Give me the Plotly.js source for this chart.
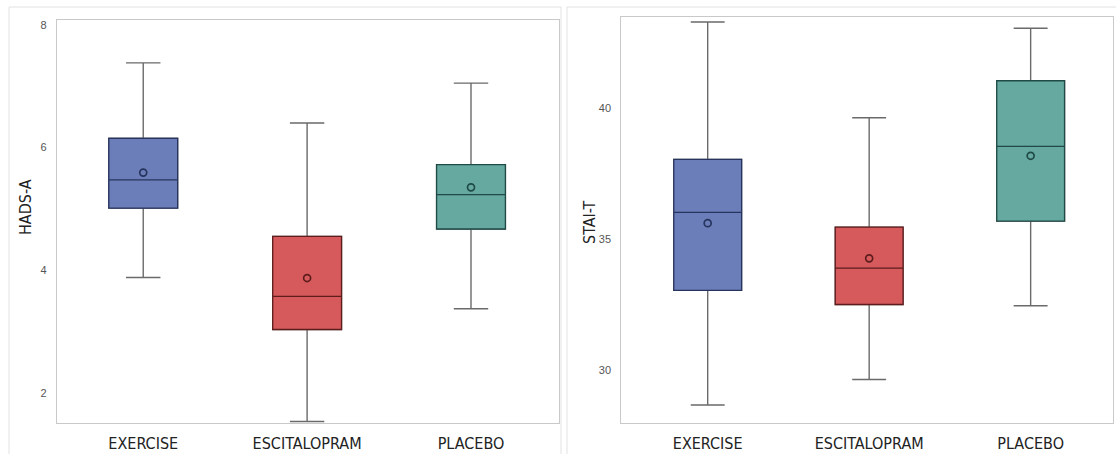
<!DOCTYPE html>
<html>
<head>
<meta charset="utf-8">
<script src="https://cdn.plot.ly/plotly-3.0.1.min.js"></script>
<style>html,body{margin:0;padding:0;background:#fff;}#chart{width:1116px;height:454px;}</style>
</head>
<body>
<div id="chart"></div>
<script>
// Groups
const groups = ['EXERCISE', 'ESCITALOPRAM', 'PLACEBO'];

// HADS-A (left panel)
const hadsLower  = [3.88, 1.53, 3.37];
const hadsQ1     = [5.01, 3.03, 4.67];
const hadsMedian = [5.47, 3.57, 5.23];
const hadsQ3     = [6.15, 4.55, 5.72];
const hadsUpper  = [7.38, 6.40, 7.05];
const hadsMean   = [5.59, 3.87, 5.35];
const hadsTicks  = [2, 4, 6, 8];

// STAI-T (right panel)
const staiLower  = [28.67, 29.64, 32.45];
const staiQ1     = [33.04, 32.50, 35.68];
const staiMedian = [36.01, 33.89, 38.53];
const staiQ3     = [38.03, 35.45, 41.03];
const staiUpper  = [43.27, 39.62, 43.03];
const staiMean   = [35.60, 34.26, 38.17];
const staiTicks  = [30, 35, 40];

const fills = ['#6c7eb9', '#d65a5b', '#66a9a1'];
const edge  = ['#27345e', '#5e1c1d', '#1f4a45'];
const whiskerColor = '#6a6a6a';

const traces = [];
function addPanel(lower, q1, med, q3, upper, mean, xa, ya) {
  groups.forEach((g, i) => {
    // whiskers (gray)
    traces.push({
      type: 'box', x: [g], q1: [q1[i]], median: [med[i]], q3: [q3[i]],
      lowerfence: [lower[i]], upperfence: [upper[i]],
      fillcolor: fills[i], line: {color: whiskerColor, width: 1.4},
      width: 0.42, whiskerwidth: 0.5, boxpoints: false,
      xaxis: xa, yaxis: ya, hoverinfo: 'skip', showlegend: false
    });
    // box body (dark outline and median)
    traces.push({
      type: 'box', x: [g], q1: [q1[i]], median: [med[i]], q3: [q3[i]],
      lowerfence: [q1[i]], upperfence: [q3[i]],
      fillcolor: fills[i], line: {color: edge[i], width: 1.3},
      width: 0.42, whiskerwidth: 0, boxpoints: false,
      xaxis: xa, yaxis: ya, hoverinfo: 'skip', showlegend: false
    });
  });
  traces.push({
    type: 'scatter', mode: 'markers', x: groups, y: mean,
    marker: {symbol: 'circle-open', size: 7, color: edge, line: {width: 1.7, color: edge}},
    xaxis: xa, yaxis: ya, hoverinfo: 'skip', showlegend: false
  });
}
addPanel(hadsLower, hadsQ1, hadsMedian, hadsQ3, hadsUpper, hadsMean, 'x', 'y');
addPanel(staiLower, staiQ1, staiMedian, staiQ3, staiUpper, staiMean, 'x2', 'y2');

const W = 1116, H = 454;
const frame = '#c9c9c9';
const xFont = {family: '"Liberation Sans Narrow", "DejaVu Sans Condensed", Arial, sans-serif', size: 16, color: '#222'};
const yFont = {family: 'Arial, "Liberation Sans", sans-serif', size: 11, color: '#555'};

const xBase = {
  type: 'category', categoryarray: groups, showgrid: false, zeroline: false,
  showline: true, mirror: true, linecolor: frame, linewidth: 1,
  ticks: '', tickfont: xFont, ticklabelstandoff: 5, fixedrange: true
};
const yBase = {
  showgrid: false, zeroline: false, showline: true, mirror: true,
  linecolor: frame, linewidth: 1, ticks: '', tickfont: yFont,
  ticklabelstandoff: 7, fixedrange: true
};

const layout = {
  width: W, height: H,
  margin: {l: 0, r: 0, t: 0, b: 0},
  paper_bgcolor: '#ffffff', plot_bgcolor: '#ffffff',
  boxmode: 'overlay', showlegend: false,
  xaxis: Object.assign({}, xBase, {domain: [56.7 / W, 559 / W], range: [-0.528, 2.537], anchor: 'y'}),
  yaxis: Object.assign({}, yBase, {domain: [1 - 423.3 / H, 1 - 20 / H], range: [1.5, 8.08], tickvals: hadsTicks, anchor: 'x'}),
  xaxis2: Object.assign({}, xBase, {domain: [621.3 / W, 1113 / W], range: [-0.535, 2.51], anchor: 'y2'}),
  yaxis2: Object.assign({}, yBase, {domain: [1 - 423.3 / H, 1 - 17.3 / H], range: [27.97, 43.45], tickvals: staiTicks, anchor: 'x2'}),
  shapes: [
    {type: 'rect', xref: 'paper', yref: 'paper', x0: 9 / W, x1: 561 / W, y0: -0.05, y1: 1 - 7 / H,
     line: {color: '#e2e2e2', width: 1}, fillcolor: 'rgba(0,0,0,0)', layer: 'below'},
    {type: 'rect', xref: 'paper', yref: 'paper', x0: 567 / W, x1: 1.05, y0: -0.05, y1: 1 - 7 / H,
     line: {color: '#e2e2e2', width: 1}, fillcolor: 'rgba(0,0,0,0)', layer: 'below'}
  ],
  annotations: [
    {text: 'HADS-A', xref: 'paper', yref: 'paper', x: 25 / W, y: 1 - 207 / H, textangle: -90,
     showarrow: false, xanchor: 'center', yanchor: 'middle',
     font: {family: '"Liberation Sans Narrow", "DejaVu Sans Condensed", Arial, sans-serif', size: 16, color: '#222'}},
    {text: 'STAI-T', xref: 'paper', yref: 'paper', x: 589 / W, y: 1 - 222 / H, textangle: -90,
     showarrow: false, xanchor: 'center', yanchor: 'middle',
     font: {family: '"Liberation Sans Narrow", "DejaVu Sans Condensed", Arial, sans-serif', size: 16, color: '#222'}}
  ]
};

Plotly.newPlot('chart', traces, layout, {displayModeBar: false, staticPlot: true});
</script>
</body>
</html>
